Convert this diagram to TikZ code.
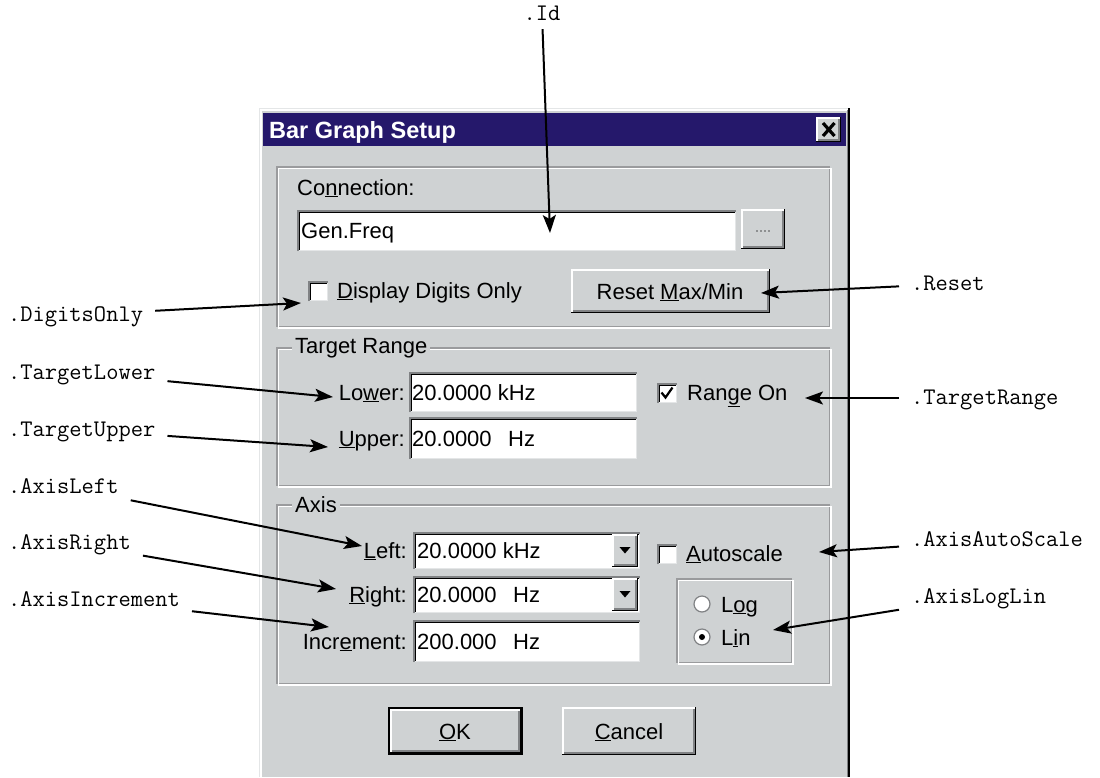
\documentclass[tikz,border=0pt]{standalone}
\usepackage{fontspec}
\setmainfont{Liberation Sans}
\usetikzlibrary{arrows.meta}

\definecolor{dlggray}{RGB}{207,210,211}
\definecolor{titleblue}{RGB}{37,24,107}
\definecolor{shadowgray}{RGB}{128,130,132}
\definecolor{rimgray}{RGB}{228,230,231}

% raised button: x1 y1 x2 y2
\newcommand{\winraised}[4]{%
    \fill[dlggray] (#1,#2) rectangle (#3,#4);
    \draw[white, line width=1.5pt] (#1+0.75,#4-1.5) -- (#1+0.75,#2+0.75) -- (#3-1.5,#2+0.75);
    \draw[shadowgray, line width=1.5pt] (#1+2.25,#4-2.25) -- (#3-2.25,#4-2.25) -- (#3-2.25,#2+2.25);
    \draw[black, line width=1.5pt] (#1,#4-0.75) -- (#3-0.75,#4-0.75) -- (#3-0.75,#2);
}
% sunken edit field
\newcommand{\winsunken}[4]{%
    \fill[white] (#1,#2) rectangle (#3,#4);
    \draw[shadowgray, line width=1.5pt] (#1+0.75,#4) -- (#1+0.75,#2+0.75) -- (#3,#2+0.75);
    \draw[black, line width=1.5pt] (#1+2.25,#4-1.5) -- (#1+2.25,#2+2.25) -- (#3-1.5,#2+2.25);
    \draw[rimgray, line width=1.5pt] (#1+1.5,#4-0.75) -- (#3-0.75,#4-0.75) -- (#3-0.75,#2+1.5);
}
% etched group frame
\newcommand{\wingroup}[4]{%
    \draw[shadowgray!80, line width=1.2pt] (#1,#2) rectangle (#3-1.5,#4-1.5);
    \draw[white, line width=1.2pt] (#1+1.5,#2+1.5) rectangle (#3,#4);
}
% check box at top left corner
\newcommand{\wincheck}[2]{\winsunken{#1}{#2}{#1+20}{#2+20}}

\begin{document}
\begin{tikzpicture}[
            x=1pt, y=-1pt,
            ui/.style={font=\fontsize{22}{26}\selectfont, inner sep=0pt, anchor=base west},
            caption/.style={ui, fill=dlggray, inner xsep=3pt, inner ysep=1pt, anchor=west},
            code label/.style={font=\ttfamily\fontsize{23.8}{26}\selectfont, inner xsep=12pt, inner ysep=8pt, text height=13pt, text depth=1pt},
            callout/.style={line width=2pt, -{Stealth[length=18pt,width=13pt,inset=4pt]}}
        ]
        \useasboundingbox (0,0) rectangle (1100,777);

        % Dialog window
        \fill[dlggray] (259,108) rectangle (850,777);
        \draw[rimgray, line width=1.2pt] (259.6,777) -- (259.6,108.6) -- (850,108.6);
        \draw[white, line width=1.2pt] (261,777) -- (261,110) -- (848,110);
        \draw[shadowgray, line width=1.2pt] (847.4,110) -- (847.4,777);
        \draw[black, line width=1.5pt] (849.2,108) -- (849.2,777);

        % Title bar
        \fill[titleblue] (263,113) rectangle (846,146);
        \node[ui, font=\fontsize{23.5}{26}\selectfont\bfseries, text=white] (title) at (269,138) {Bar Graph Setup};
        \winraised{816}{117}{841}{142}
        \draw[line width=3.2pt] (823,123) -- (834.5,136) (834.5,123) -- (823,136);

        % Connection group
        \wingroup{277}{167}{831}{328}
        \node[ui] (conn) at (297,195) {Co\underline{n}nection:};
        \winsunken{297}{210}{736}{251}
        \node[ui] (connval) at (301,238) {Gen.Freq};
        \winraised{741}{209}{785}{249}
        \foreach \i in {0,...,3}
            \fill[shadowgray!60!black] (757+\i*4,231) circle (0.9);
        \wincheck{308}{281}
        \node[ui] (digits) at (337,298) {\underline{D}isplay Digits Only};
        \winraised{571}{269}{770}{313}
        \node[ui, anchor=base] (reset) at (670,299) {Reset \underline{M}ax/Min};

        % Target Range group
        \wingroup{277}{348}{831}{487}
        \node[caption] (captarget) at (292,348) {Target Range};
        \node[ui, anchor=base east] (lower) at (405,400) {Lo\underline{w}er:};
        \winsunken{409}{372}{637}{412}
        \node[ui] (lowerval) at (412,400) {20.0000 kHz};
        \node[ui, anchor=base east] (upper) at (405,446) {\underline{U}pper:};
        \winsunken{409}{417}{637}{459}
        \node[ui] (upperval) at (412,446) {20.0000\hspace{0.75em}Hz};
        \wincheck{657}{383}
        \draw[line width=2.2pt] (661.5,392.5) -- (665.5,397.5) -- (672.5,387.5);
        \node[ui] (rangeon) at (687,400) {Ran\underline{g}e On};

        % Axis group
        \wingroup{277}{505}{831}{685}
        \node[caption] (capaxis) at (292,505) {Axis};
        \node[ui, anchor=base east] (left) at (407,558) {\underline{L}eft:};
        \winsunken{413}{532}{640}{569}
        \winraised{612}{534}{638}{567}
        \fill (619.5,547) -- (630.5,547) -- (625,553.5) -- cycle;
        \node[ui] (leftval) at (417,558) {20.0000 kHz};
        \node[ui, anchor=base east] (right) at (407,602) {\underline{R}ight:};
        \winsunken{413}{576}{640}{613}
        \winraised{612}{578}{638}{611}
        \fill (619.5,591) -- (630.5,591) -- (625,597.5) -- cycle;
        \node[ui] (rightval) at (417,602) {20.0000\hspace{0.75em}Hz};
        \node[ui, anchor=base east] (incr) at (407,649) {Incr\underline{e}ment:};
        \winsunken{413}{620}{640}{662}
        \node[ui] (incrval) at (417,649) {200.000\hspace{0.75em}Hz};
        \wincheck{657}{544}
        \node[ui] (autoscale) at (686,561) {\underline{A}utoscale};
        \wingroup{677}{579}{793}{664}
        \draw[shadowgray, fill=white, line width=1.2pt] (702,604) circle (8);
        \node[ui] (log) at (721,612) {L\underline{o}g};
        \draw[shadowgray, fill=white, line width=1.2pt] (702,637) circle (8);
        \fill (702,637) circle (3);
        \node[ui] (lin) at (721,645) {L\underline{i}n};

        % Buttons
        \fill[black] (388,707) rectangle (523,755);
        \winraised{390}{709}{521}{753}
        \node[ui, anchor=base] (ok) at (455,739) {\underline{O}K};
        \winraised{562}{707}{696}{755}
        \node[ui, anchor=base] (cancel) at (629,739) {\underline{C}ancel};

        % Property labels
        \node[code label] (L-Id) at (542,14) {.Id};
        \foreach \lbl/\y in {DigitsOnly/315, TargetLower/373, TargetUpper/430, AxisLeft/487, AxisRight/543, AxisIncrement/600}
            \node[code label, anchor=west] (L-\lbl) at (-4,\y) {.\lbl};
        \foreach \lbl/\y in {Reset/284, TargetRange/398, AxisAutoScale/540, AxisLogLin/597}
            \node[code label, anchor=west] (L-\lbl) at (899,\y) {.\lbl};

        % Arrow tips
        \coordinate (T-Id) at (550,233);
        \coordinate (T-DigitsOnly) at (301,303);
        \coordinate (T-TargetLower) at (333,397);
        \coordinate (T-TargetUpper) at (328,447);
        \coordinate (T-AxisLeft) at (362,546);
        \coordinate (T-AxisRight) at (336,589);
        \coordinate (T-AxisIncrement) at (329,627);
        \coordinate (T-Reset) at (761,293);
        \coordinate (T-TargetRange) at (805,398);
        \coordinate (T-AxisAutoScale) at (819,552);
        \coordinate (T-AxisLogLin) at (773,630);

        % Connect labels to controls
        \foreach \lbl in {Id, DigitsOnly, TargetLower, TargetUpper, AxisLeft, AxisRight, AxisIncrement, Reset, TargetRange, AxisAutoScale, AxisLogLin}
            \draw[callout] (L-\lbl) -- (T-\lbl);

        \end{tikzpicture}
\end{document}
